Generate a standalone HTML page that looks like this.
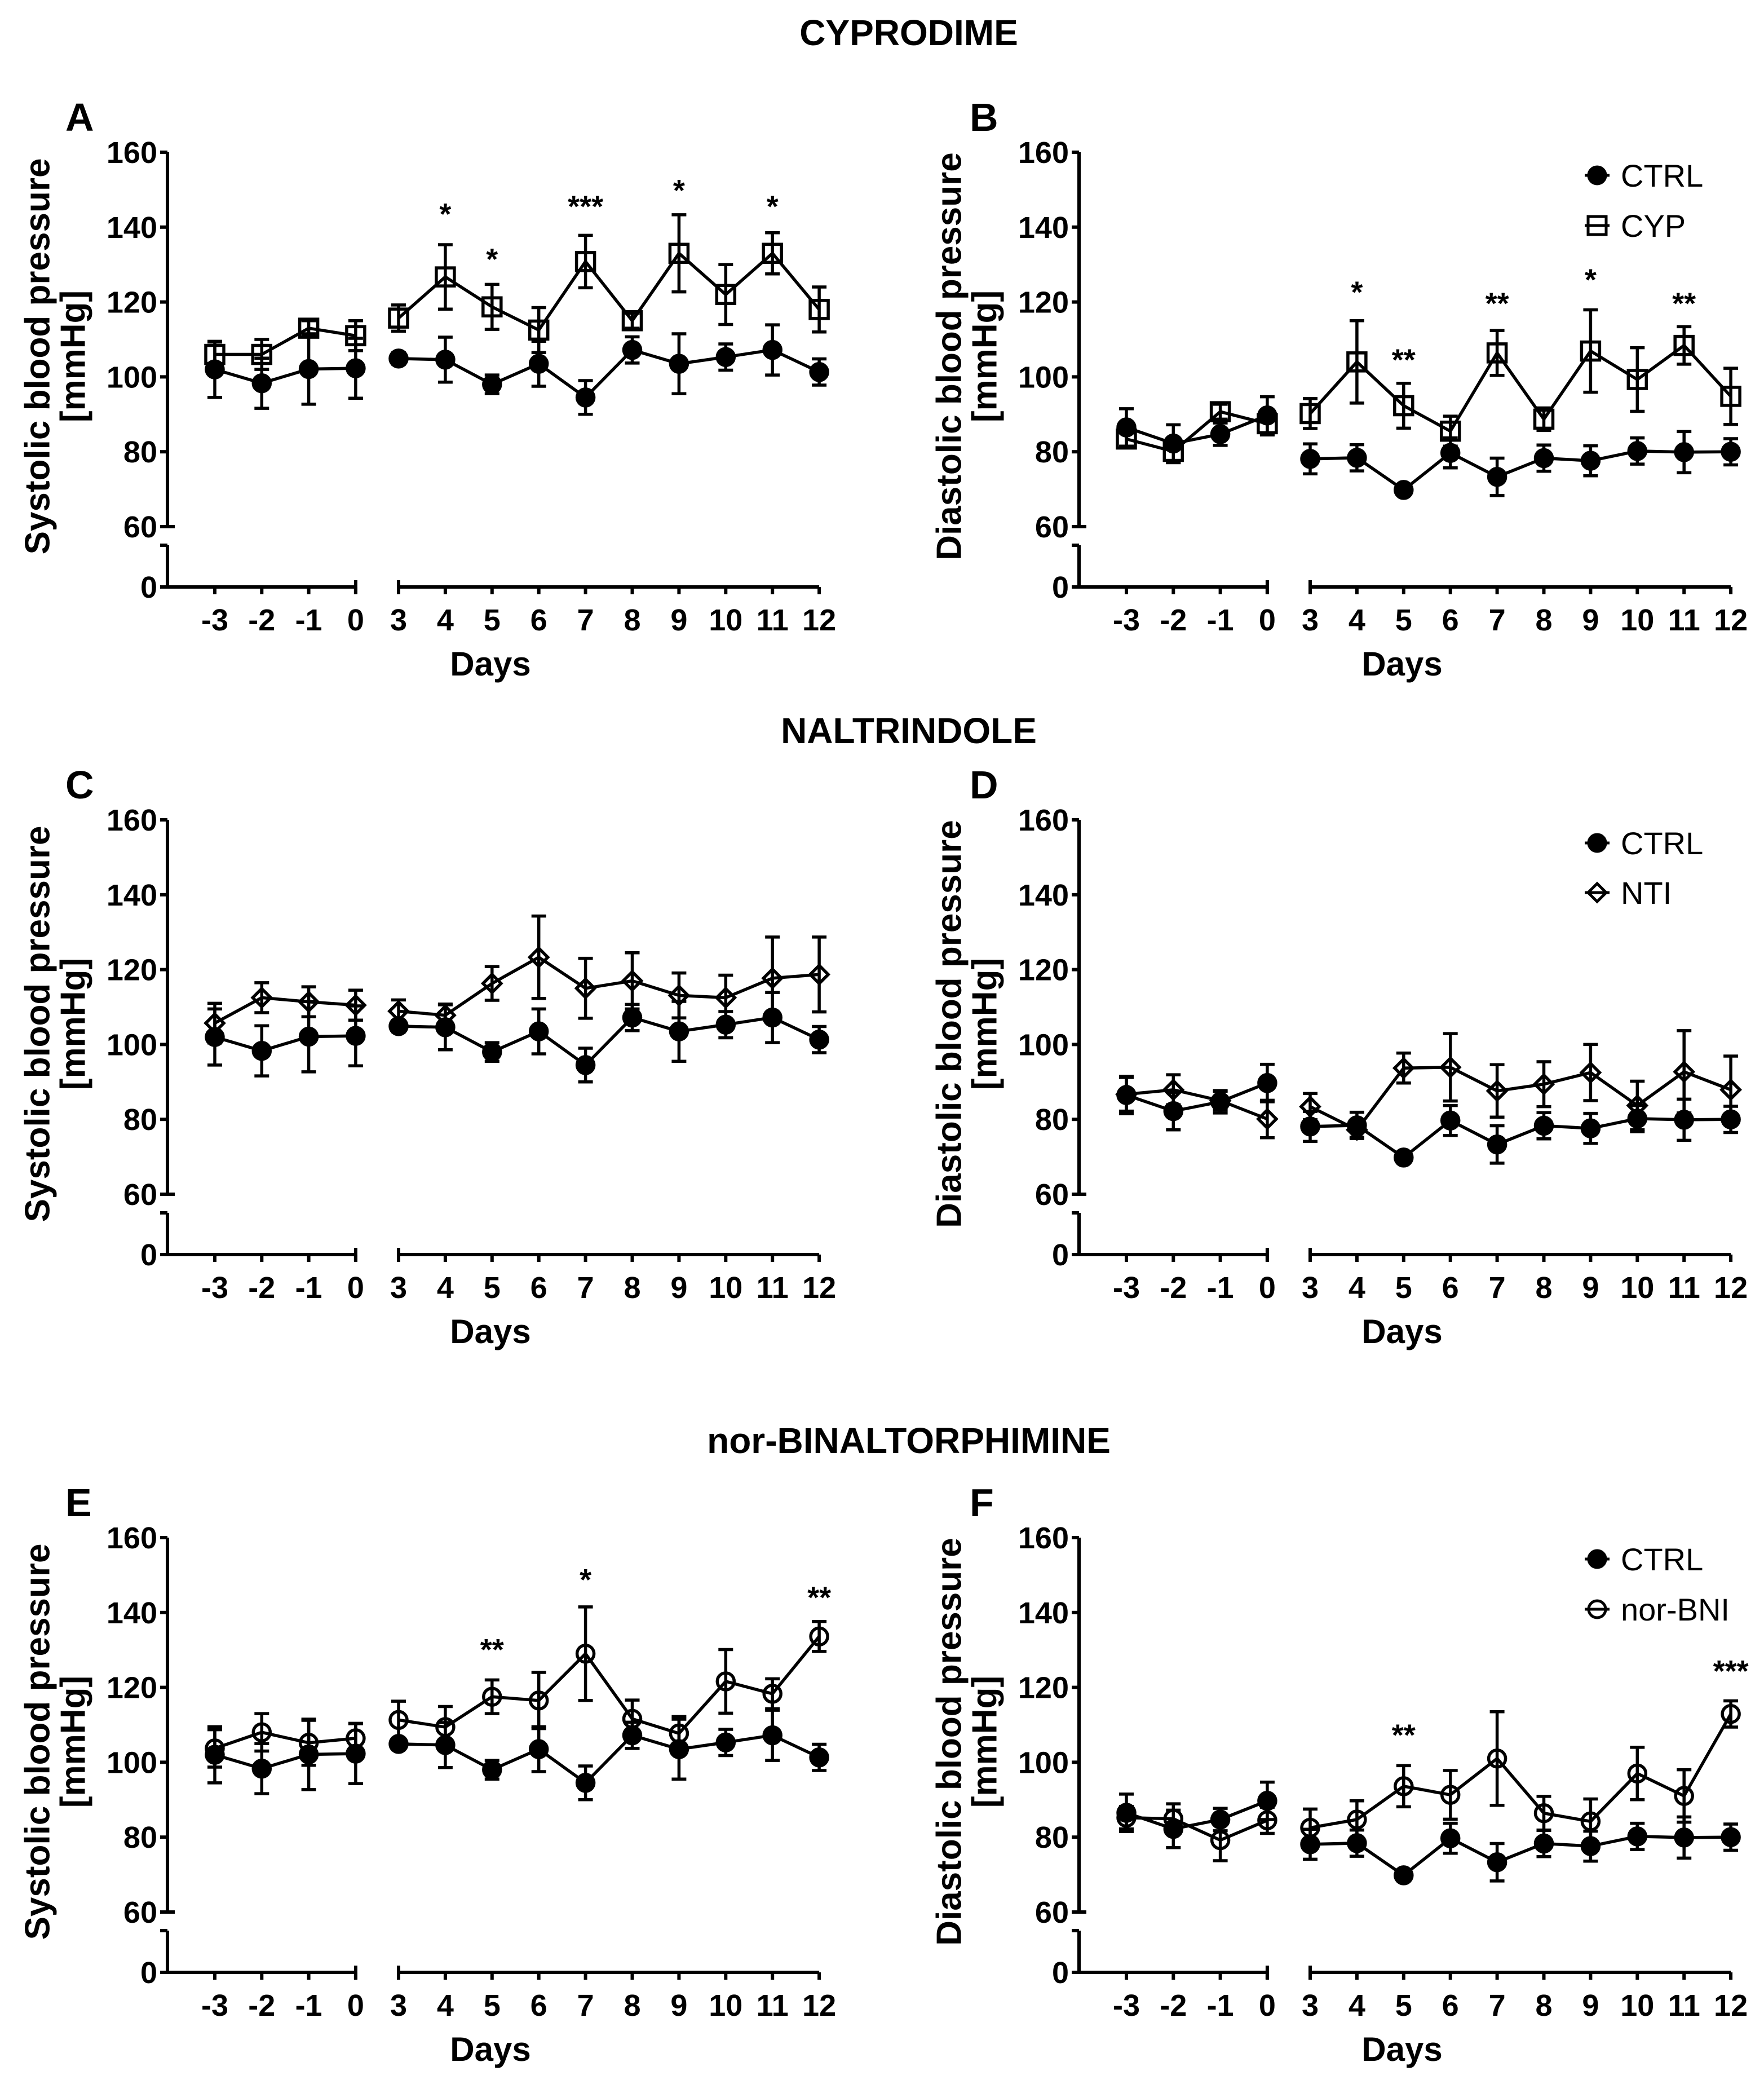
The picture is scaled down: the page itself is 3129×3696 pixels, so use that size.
<!DOCTYPE html>
<html><head><meta charset="utf-8"><style>
html,body{margin:0;padding:0;background:#fff}
svg{display:block;font-family:"Liberation Sans",Arial,sans-serif}
</style></head><body>
<svg id="fig" width="3129" height="3696" viewBox="0 0 3129 3696" xmlns="http://www.w3.org/2000/svg"></svg>
<script>
const days = [-3,-2,-1,0,3,4,5,6,7,8,9,10,11,12];
const yTicks = [60,80,100,120,140,160];
const sysCtrl    = [102,98.3,102.1,102.3,104.9,104.6,98,103.5,94.5,107.2,103.5,105.3,107.2,101.3];
const sysCtrlErr = [7.5,6.7,9.4,8,1.5,6,2.5,6,4.5,3.5,8,3.5,6.7,3.5];
const diaCtrl    = [86.5,82.2,84.7,89.7,78.1,78.4,69.8,79.7,73.3,78.3,77.6,80.2,79.9,80];
const diaCtrlErr = [5,5,3,5,4,3.5,0.5,4,5,3.5,4,3.5,5.5,3.5];
const sysCyp     = [106,106,113,111,115.7,126.7,118.7,112.5,130.8,115,133,122,133,118];
const sysCypErr  = [2.5,4,2,4,3.5,8.6,6,6,7,2,10.3,8,5.5,6];
const diaCyp     = [83.4,80.1,90.7,87.5,90.2,104,92.3,85.5,106.4,88.7,106.9,99.3,108.4,94.8];
const diaCypErr  = [2,3,2,3,4,11,6,4,6,3,11,8.5,5,7.5];
const sysNti     = [105.7,112.5,111.4,110.5,108.9,107.8,116.3,123.3,115,117,113.1,112.5,117.7,118.7];
const sysNtiErr  = [5.3,4,4,4,3,3,4.5,11,8,7.5,6,6,11,10];
const diaNti     = [86.7,87.9,85,80.1,83.4,77.2,93.7,93.9,87.6,89.4,92.5,83.7,92.7,87.9];
const diaNtiErr  = [4.5,4,2.5,5,3.5,2,4,9,7,6,7.5,6.5,11,9];
const sysBni     = [103.7,108,105.2,106.4,111.3,109.4,117.5,116.5,129,111.6,107.7,121.6,118.3,133.6];
const sysBniErr  = [5,5,6,4,5,5.5,4.5,7.5,12.5,5,4.5,8.5,4,4];
const diaBni     = [85.2,84.9,79.2,84.5,82.5,84.7,93.6,91.3,101,86.4,84.2,97,91,112.9];
const diaBniErr  = [3,4,5.5,3.5,5,5,5.5,6.5,12.5,4.5,6,7,7,3.5];
const starsA = [[4,'*',144.3],[5,'*',132.3],[7,'***',146.4],[9,'*',150.7],[11,'*',146.4]];
const starsB = [[4,'*',123.5],[5,'**',105.4],[7,'**',120.5],[9,'*',126.8],[11,'**',120.5]];
const starsE = [[5,'**',130.9],[7,'*',149.6],[12,'**',144.9]];
const starsF = [[5,'**',108.1],[12,'***',125.2]];

const NS='http://www.w3.org/2000/svg';
const svg=document.getElementById('fig');
function mk(tag,attrs,parent){const e=document.createElementNS(NS,tag);for(const k in attrs)e.setAttribute(k,attrs[k]);(parent||svg).appendChild(e);return e;}
function txt(s,attrs,parent){const e=mk('text',attrs,parent);e.textContent=s;return e;}

const titles=[['CYPRODIME',80],['NALTRINDOLE',1318],['nor-BINALTORPHIMINE',2577]];
titles.forEach(t=>{
  const e=txt(t[0],{x:1612,y:t[1],'text-anchor':'middle','font-size':64,'font-weight':'bold'});
  
  
});

function panel(cfg){
  const x0=cfg.x0, off=cfg.off;
  const g=mk('g',{});
  
  
  const yS=v=>off+270+(160-v)*6.64;
  const xS=d=>d<=0? x0+84+(d+3)*83.3 : x0+410+(d-3)*82.9;
  const y0=off+1041, yBrk=off+967;
  const L=txt(cfg.letter,{x:cfg.lx,y:off+232,'font-size':70,'font-weight':'bold'},g);
  
  
  const ax=mk('g',{stroke:'#000','stroke-width':6,fill:'none'},g);
  
  
  mk('line',{x1:x0,y1:yS(160),x2:x0,y2:yS(60)},ax);
  yTicks.forEach(v=>mk('line',{x1:x0-13,y1:yS(v),x2:x0+(v==60?13:0),y2:yS(v)},ax));
  mk('line',{x1:x0,y1:yBrk,x2:x0,y2:y0},ax);
  mk('line',{x1:x0-13,y1:yBrk,x2:x0,y2:yBrk},ax);
  mk('line',{x1:x0-13,y1:y0,x2:xS(0),y2:y0},ax);
  mk('line',{x1:xS(0),y1:y0-12,x2:xS(0),y2:y0+12},ax);
  mk('line',{x1:xS(3),y1:y0,x2:xS(12),y2:y0},ax);
  mk('line',{x1:xS(3),y1:y0-12,x2:xS(3),y2:y0+12},ax);
  days.forEach(d=>mk('line',{x1:xS(d),y1:y0,x2:xS(d),y2:y0+13},ax));
  const tl=mk('g',{'font-size':54,'font-weight':'bold'},g);
  
  
  yTicks.forEach(v=>txt(String(v),{x:x0-18,y:yS(v)+19,'text-anchor':'end'},tl));
  txt('0',{x:x0-18,y:y0+19,'text-anchor':'end'},tl);
  days.forEach(d=>txt(String(d),{x:xS(d),y:y0+77,'text-anchor':'middle'},tl));
  const dl=txt('Days',{x:x0+573,y:off+1198,'text-anchor':'middle','font-size':60,'font-weight':'bold'},g);
  
  
  const yt=mk('g',{'font-size':62,'font-weight':'bold','text-anchor':'middle'},g);
  
  
  txt(cfg.ytitle,{x:0,y:0,transform:`translate(${x0-226},${off+632}) rotate(-90)`,'dominant-baseline':'middle'},yt);
  txt('[mmHg]',{x:0,y:0,transform:`translate(${x0-163},${off+632}) rotate(-90)`,'dominant-baseline':'middle'},yt);

  function series(vals,errs,kind,name){
    const sg=mk('g',{stroke:'#000','stroke-width':5.5},g);
    
    
    vals.forEach((v,i)=>{
      const x=xS(days[i]);
      mk('line',{x1:x,y1:yS(v-errs[i]),x2:x,y2:yS(v+errs[i])},sg);
      mk('line',{x1:x-13,y1:yS(v+errs[i]),x2:x+13,y2:yS(v+errs[i])},sg);
      mk('line',{x1:x-13,y1:yS(v-errs[i]),x2:x+13,y2:yS(v-errs[i])},sg);
    });
    [[0,4],[4,14]].forEach(r=>{
      const pts=[];for(let i=r[0];i<r[1];i++)pts.push(xS(days[i])+','+yS(vals[i]));
      mk('polyline',{points:pts.join(' '),fill:'none'},sg);
    });
    vals.forEach((v,i)=>{
      const m=marker(kind,xS(days[i]),yS(v),sg);
      
      
    });
  }
  series(cfg.tv,cfg.te,cfg.kind,cfg.tname+'-series');
  series(cfg.cv,cfg.ce,'circle-filled','ctrl-series');
  (cfg.stars||[]).forEach(s=>{
    const st=txt(s[1],{x:xS(s[0]),y:yS(s[2])+24,'text-anchor':'middle','font-size':54,'font-weight':'bold'},g);
    
    
  });
  if(cfg.legend){
    const lg=mk('g',{},g);
    
    
    const lx=x0+919;
    [[cfg.ly1,'circle-filled','CTRL'],[cfg.ly2,cfg.kind,cfg.legend]].forEach(r=>{
      const e=mk('g',{stroke:'#000','stroke-width':5},lg);
      
      
      mk('line',{x1:lx-22,y1:off+r[0],x2:lx+22,y2:off+r[0]},e);
      marker(r[1],lx,off+r[0],e);
      txt(r[2],{x:lx+42,y:off+r[0]+20,'font-size':56,stroke:'none',fill:'#000'},e);
    });
  }
}
function marker(kind,x,y,p){
  if(kind==='circle-filled')return mk('circle',{cx:x,cy:y,r:15,fill:'#000'},p);
  if(kind==='square')return mk('rect',{x:x-16,y:y-16,width:32,height:32,fill:'none'},p);
  if(kind==='diamond')return mk('polygon',{points:`${x},${y-16} ${x+16},${y} ${x},${y+16} ${x-16},${y}`,fill:'none'},p);
  return mk('circle',{cx:x,cy:y,r:15,fill:'none'},p);
}
const SYS='Systolic blood pressure', DIA='Diastolic blood pressure';
panel({letter:'A',lx:116,x0:297,off:0,ytitle:SYS,cv:sysCtrl,ce:sysCtrlErr,tv:sysCyp,te:sysCypErr,kind:'square',tname:'cyp',stars:starsA});
panel({letter:'B',lx:1720,x0:1914,off:0,ytitle:DIA,cv:diaCtrl,ce:diaCtrlErr,tv:diaCyp,te:diaCypErr,kind:'square',tname:'cyp',stars:starsB,legend:'CYP',ly1:311,ly2:400});
panel({letter:'C',lx:116,x0:297,off:1184,ytitle:SYS,cv:sysCtrl,ce:sysCtrlErr,tv:sysNti,te:sysNtiErr,kind:'diamond',tname:'nti'});
panel({letter:'D',lx:1720,x0:1914,off:1184,ytitle:DIA,cv:diaCtrl,ce:diaCtrlErr,tv:diaNti,te:diaNtiErr,kind:'diamond',tname:'nti',legend:'NTI',ly1:311,ly2:399});
panel({letter:'E',lx:116,x0:297,off:2457,ytitle:SYS,cv:sysCtrl,ce:sysCtrlErr,tv:sysBni,te:sysBniErr,kind:'circle-open',tname:'nor-bni',stars:starsE});
panel({letter:'F',lx:1720,x0:1914,off:2457,ytitle:DIA,cv:diaCtrl,ce:diaCtrlErr,tv:diaBni,te:diaBniErr,kind:'circle-open',tname:'nor-bni',stars:starsF,legend:'nor-BNI',ly1:308,ly2:397});
</script>
</body></html>
